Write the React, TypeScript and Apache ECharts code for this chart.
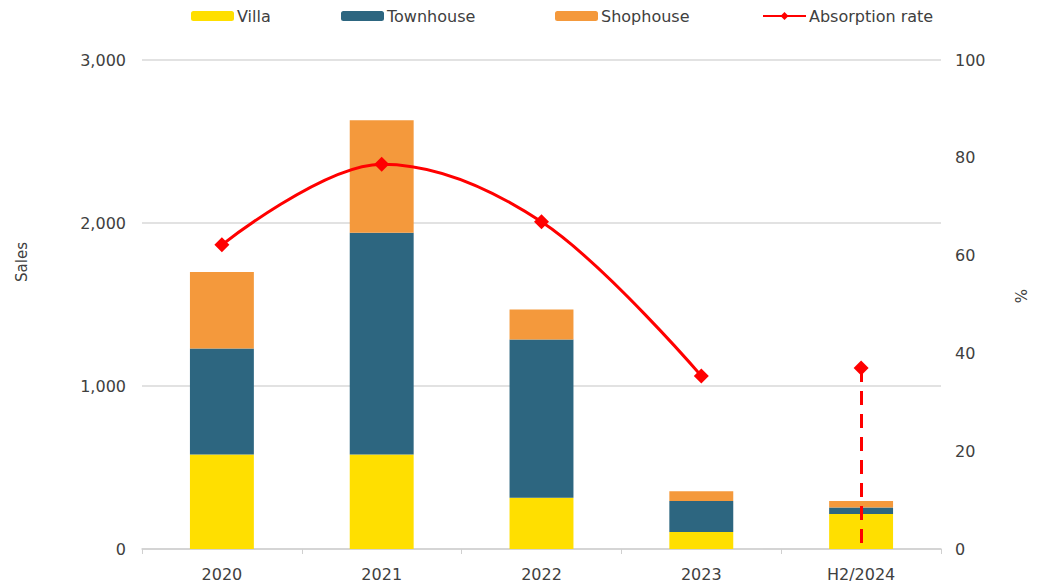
import React, { useEffect, useRef } from "react";
import * as echarts from "echarts";

const categories = ["2020", "2021", "2022", "2023", "H2/2024"];
const villa = [580, 580, 315, 105, 215];
const townhouse = [650, 1360, 970, 190, 40];
const shophouse = [470, 690, 185, 60, 40];
const absorption = [62.2, 78.7, 66.9, 35.4, null];
const absorptionLatest = [null, null, null, null, 37];
const salesTicks = [0, 1000, 2000, 3000];
const legendNames = ["Villa", "Townhouse", "Shophouse", "Absorption rate"];
const legendLefts = [186, 336, 550, 757];

export default function App() {
  const ref = useRef<HTMLDivElement>(null);
  useEffect(() => {
    if (!ref.current) return;
    const chart = echarts.init(ref.current, undefined, { renderer: "svg" });
    const font = "'DejaVu Sans', 'Noto Sans', sans-serif";
    const txt = "#404040";
    chart.setOption({
      animation: false,
      backgroundColor: "#ffffff",
      textStyle: { fontFamily: font },
      legend: legendNames.map((n, i) => ({
        data: [n],
        top: 3,
        left: legendLefts[i],
        itemWidth: 43,
        itemHeight: 10,
        itemGap: 0,
        textStyle: { color: txt, fontSize: 16, fontFamily: font, padding: [0, 0, 0, -2] },
      })),
      grid: { left: 142, right: 97, top: 60, bottom: 36 },
      xAxis: {
        type: "category",
        data: categories,
        axisLine: { lineStyle: { color: "#d0d0d0", width: 1.5 } },
        axisTick: { show: true, length: 5, lineStyle: { color: "#d0d0d0" } },
        axisLabel: { color: txt, fontSize: 16, margin: 17, fontFamily: font },
      },
      yAxis: [
        {
          type: "value",
          min: salesTicks[0],
          max: salesTicks[salesTicks.length - 1],
          interval: 1000,
          axisLine: { show: false },
          axisTick: { show: false },
          splitLine: { lineStyle: { color: "#d9d9d9", width: 1.5 } },
          axisLabel: {
            color: txt,
            fontSize: 16,
            margin: 16,
            fontFamily: font,
            formatter: (v: number) => v.toLocaleString("en-US"),
          },
        },
        {
          type: "value",
          min: 0,
          max: 100,
          interval: 20,
          axisLine: { show: false },
          axisTick: { show: false },
          splitLine: { show: false },
          axisLabel: { color: txt, fontSize: 16, margin: 14, fontFamily: font },
        },
      ],
      graphic: [
        {
          type: "text",
          x: 22,
          y: 262,
          rotation: Math.PI / 2,
          style: {
            text: "Sales",
            fill: txt,
            font: `15px ${font}`,
            align: "center",
            verticalAlign: "middle",
          },
        },
        {
          type: "text",
          x: 1020,
          y: 296,
          rotation: -Math.PI / 2,
          style: {
            text: "%",
            fill: txt,
            font: `15px ${font}`,
            align: "center",
            verticalAlign: "middle",
          },
        },
      ],
      series: [
        {
          name: "Villa",
          type: "bar",
          stack: "s",
          barWidth: "40%",
          data: villa,
          itemStyle: { color: "#FFDF00" },
        },
        {
          name: "Townhouse",
          type: "bar",
          stack: "s",
          data: townhouse,
          itemStyle: { color: "#2D6680" },
        },
        {
          name: "Shophouse",
          type: "bar",
          stack: "s",
          data: shophouse,
          itemStyle: { color: "#F4993C" },
        },
        {
          name: "Absorption rate",
          type: "line",
          yAxisIndex: 1,
          data: absorption,
          smooth: 0.35,
          symbol: "diamond",
          symbolSize: 15,
          lineStyle: { color: "#FF0000", width: 3 },
          itemStyle: { color: "#FF0000" },
          z: 5,
        },
        {
          name: "Absorption rate latest",
          type: "line",
          yAxisIndex: 1,
          data: absorptionLatest,
          symbol: "diamond",
          symbolSize: 15,
          lineStyle: { color: "#FF0000", width: 3 },
          itemStyle: { color: "#FF0000" },
          z: 5,
          markLine: {
            silent: true,
            symbol: ["none", "none"],
            label: { show: false },
            lineStyle: { color: "#FF0000", width: 3, type: [14, 9] },
            data: [
              [
                { coord: [4, absorptionLatest[4]] },
                { coord: [4, 0] },
              ],
            ],
          },
        },
      ],
    });
    return () => chart.dispose();
  }, []);
  return (
    <div
      ref={ref}
      style={{ position: "fixed", left: 0, top: 0, width: 1038, height: 585 }}
    />
  );
}
